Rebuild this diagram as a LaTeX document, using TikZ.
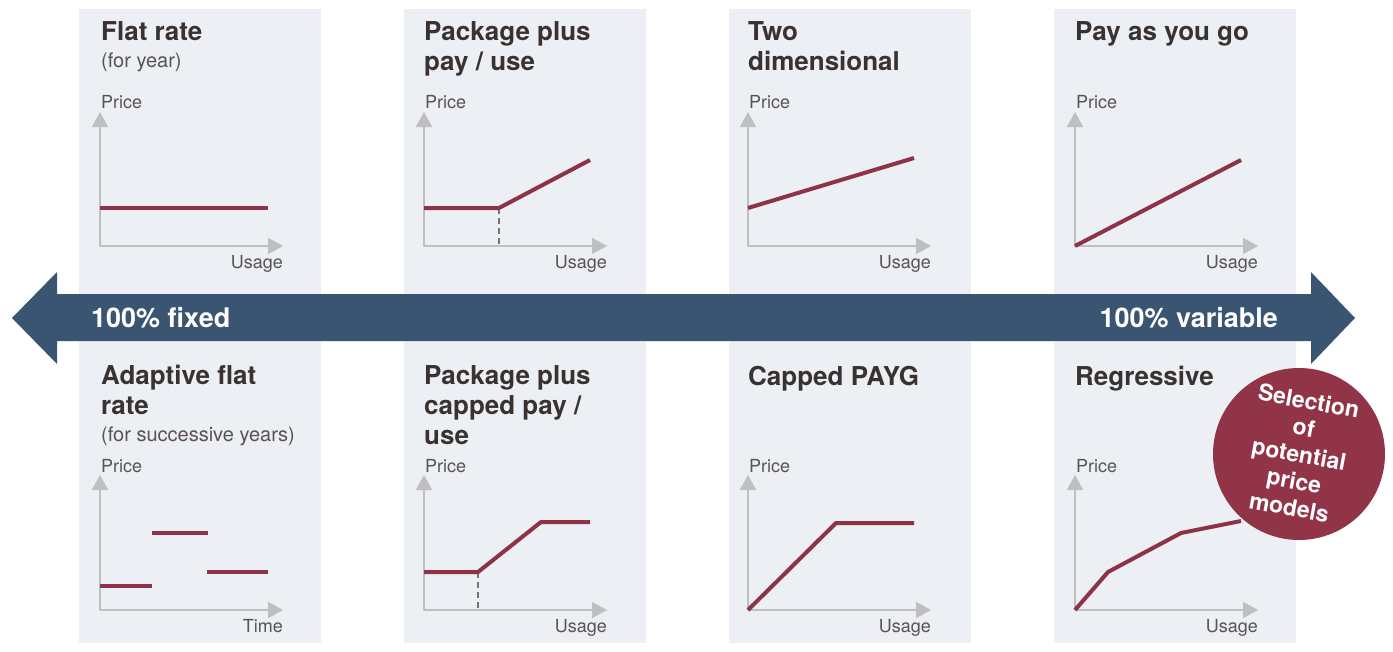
\documentclass[tikz,border=0pt]{standalone}
\usepackage{fontspec}
\setmainfont{TeX Gyre Heros}
\usetikzlibrary{arrows.meta}
\definecolor{panelbg}{HTML}{ECEFF4}
\definecolor{barblue}{HTML}{3A5571}
\definecolor{curvered}{HTML}{8E3347}
\definecolor{badgered}{HTML}{923447}
\definecolor{axisgray}{HTML}{BFBFBF}
\definecolor{titletext}{HTML}{3A3230}
\definecolor{labeltext}{HTML}{5A5350}
\begin{document}
\begin{tikzpicture}[x=1pt, y=-1pt, line join=round, >={Triangle[length=15pt,width=16pt]},
	panel/.style={fill=panelbg},
	axis/.style={draw=axisgray, line width=2pt, <->},
	curve/.style={draw=curvered, line width=4pt},
	guide/.style={draw=gray!90!black, dash pattern=on 6pt off 4pt, line width=1.5pt},
	title/.style={anchor=base west, inner sep=0, align=left, text=titletext, font=\fontsize{26}{30}\selectfont\bfseries},
	note/.style={anchor=base west, inner sep=0, text=labeltext, font=\fontsize{20}{24}\selectfont},
	axlabel/.style={inner sep=0, text=labeltext, font=\fontsize{18}{22}\selectfont},
	barlabel/.style={inner sep=0, text=white, font=\fontsize{27}{30}\selectfont\bfseries}]
		\useasboundingbox (0,0) rectangle (1393,651);
		% panels
		\fill[panel] (79,9) rectangle (321,643);
		\fill[panel] (404,9) rectangle (646,643);
		\fill[panel] (729,9) rectangle (971,643);
		\fill[panel] (1054,9) rectangle (1296,643);
		% top row (base = last line)
		\node[title] (flat) at (101,40) {Flat rate};
		\node[note] (flatsub) at (101,67) {(for year)};
		\node[title] (pack) at (424,70) {Package plus\\pay / use};
		\node[title] (twodim) at (748,70) {Two\\dimensional};
		\node[title] (payg) at (1075,40) {Pay as you go};
		\foreach \ox/\nm in {100/a,424/b,748/c,1075/d}{
			\draw[axis] (\ox,112) -- (\ox,246) -- (\ox+183,246);
			\node[axlabel, anchor=base west] (price\nm) at (\ox+1,108) {Price};
		}
		\node[axlabel, anchor=base east] (usea) at (283,268) {Usage};
		\node[axlabel, anchor=base east] (useb) at (607,268) {Usage};
		\node[axlabel, anchor=base east] (usec) at (931,268) {Usage};
		\node[axlabel, anchor=base east] (used) at (1258,268) {Usage};
		\draw[curve] (100,208) -- (268,208);
		\draw[guide] (499,208) -- (499,246);
		\draw[curve] (424,208) -- (499,208) -- (590,160);
		\draw[curve] (748,208) -- (914,158);
		\draw[curve] (1075,246) -- (1241,160);
		% bottom row
		\node[title] (adapt) at (101,414) {Adaptive flat\\rate};
		\node[note] (adaptsub) at (101,441) {(for successive years)};
		\node[title] (capped) at (424,444) {Package plus\\capped pay /\\use};
		\node[title] (cpayg) at (748,385) {Capped PAYG};
		\node[title] (regr) at (1075,385) {Regressive};
		\foreach \ox/\nm in {100/e,424/f,748/g,1075/h}{
			\draw[axis] (\ox,475) -- (\ox,610) -- (\ox+183,610);
			\node[axlabel, anchor=base west] (price\nm) at (\ox+1,472) {Price};
		}
		\node[axlabel, anchor=base east] (timee) at (283,632) {Time};
		\node[axlabel, anchor=base east] (usef) at (607,632) {Usage};
		\node[axlabel, anchor=base east] (useg) at (931,632) {Usage};
		\node[axlabel, anchor=base east] (useh) at (1258,632) {Usage};
		\draw[curve] (100,586) -- (152,586);
		\draw[curve] (152,533) -- (208,533);
		\draw[curve] (207,572) -- (268,572);
		\draw[guide] (478,572) -- (478,610);
		\draw[curve] (424,572) -- (478,572) -- (541,522) -- (590,522);
		\draw[curve] (748,610) -- (836,523) -- (914,523);
		\draw[curve] (1075,610) -- (1108,572) -- (1181,533) -- (1241,521);
		% fixed / variable bar
		\fill[barblue] (12,318) -- (57,272) -- (57,294) -- (1311,294) -- (1311,272) -- (1355,318)
			-- (1311,364) -- (1311,341) -- (57,341) -- (57,364) -- cycle;
		\node[barlabel, anchor=west] (fixed) at (91,318) {100\% fixed};
		\node[barlabel, anchor=east] (variable) at (1278,318) {100\% variable};
		% badge
		\node[circle, fill=badgered, minimum size=172pt, inner sep=0] (badge) at (1299,454) {};
		\node[rotate=-10.5, align=center, text=white, inner sep=0,
			font=\fontsize{23}{27}\selectfont\bfseries] (badgetext) at (badge.center) {Selection\\of\\potential\\price\\models};
	\end{tikzpicture}
\end{document}
